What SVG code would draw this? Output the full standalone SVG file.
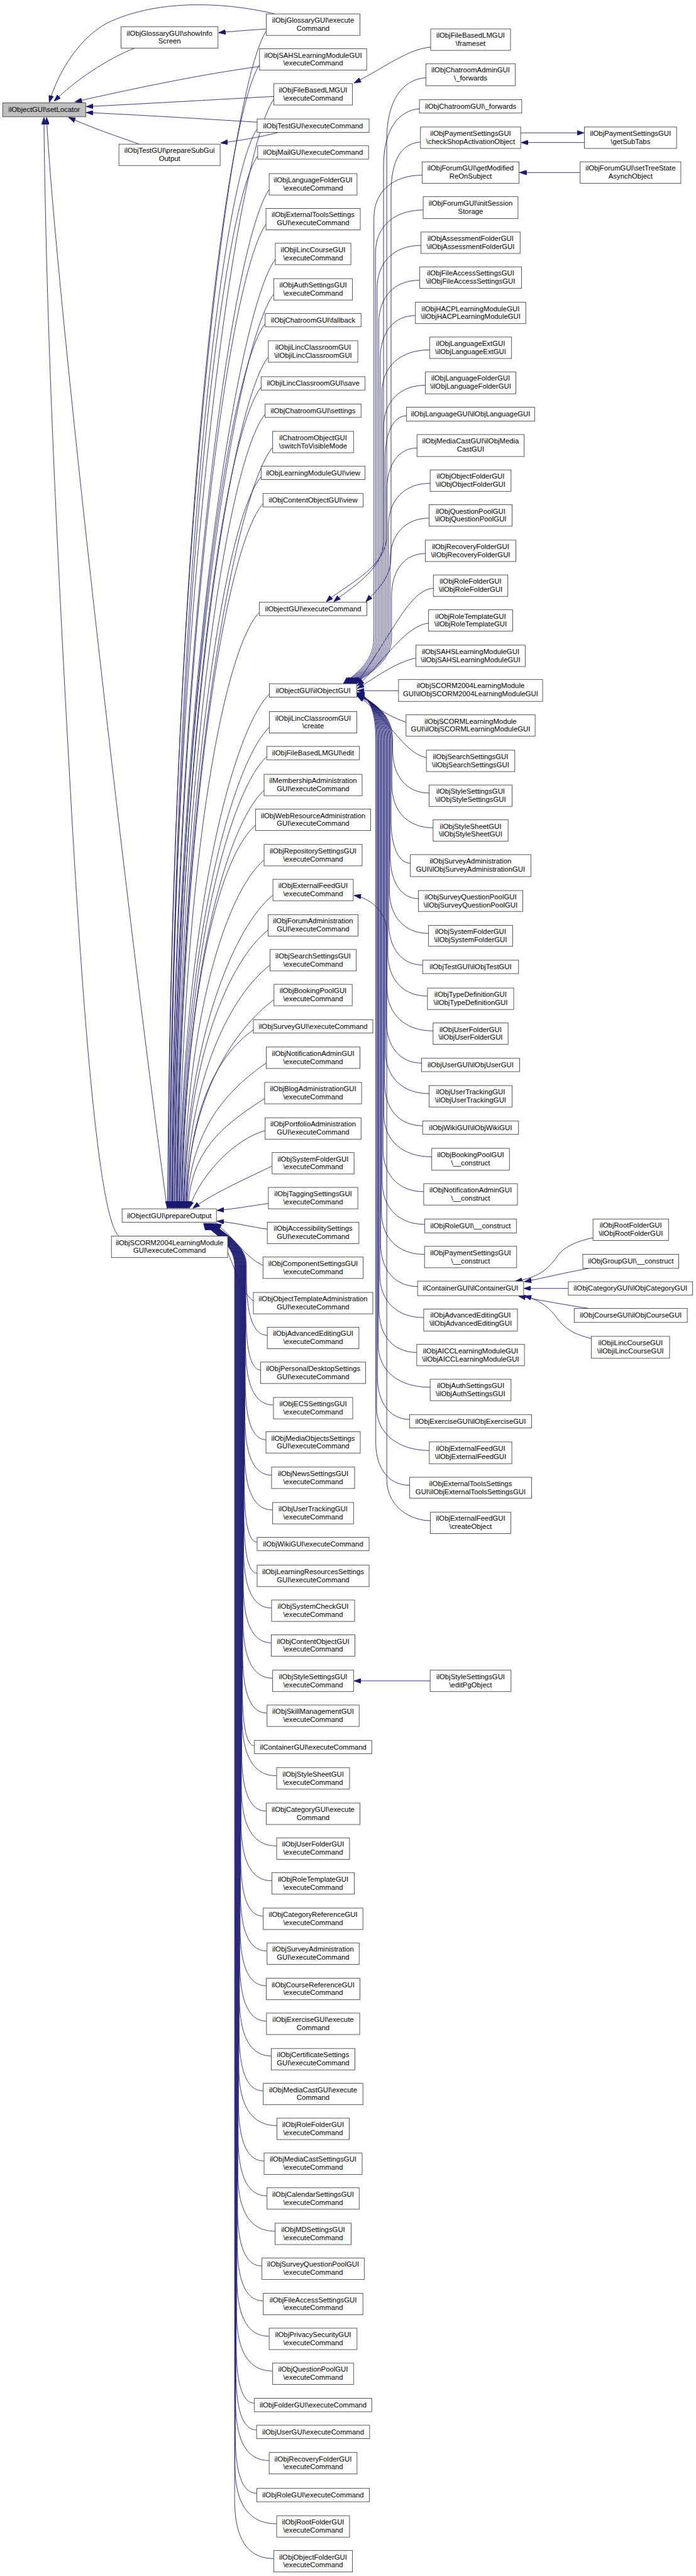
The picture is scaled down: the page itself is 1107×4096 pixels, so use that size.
<svg xmlns="http://www.w3.org/2000/svg" width="1107" height="4096" viewBox="0 0 1107 4096">
<style>
.node rect{fill:#ffffff;stroke:#3a3a3a;stroke-width:1}
.node text{font-family:"Liberation Sans",Arial,Helvetica,sans-serif;font-size:13.33px;text-anchor:middle;fill:#000000}
.edges path{fill:none;stroke:#191970;stroke-width:1;marker-end:url(#ah)}
#n-setLocator rect{fill:#bfbfbf}
</style>
<defs>
<marker id="ah" viewBox="0 0 13 9" refX="13" refY="4.5" markerWidth="13" markerHeight="9" markerUnits="userSpaceOnUse" orient="auto"><path d="M0,0 L13,4.5 L0,9 Z" fill="#191970" stroke="#191970" stroke-width="1"/></marker>
</defs>
<rect x="0" y="0" width="1107" height="4096" fill="#ffffff"/>
<g transform="scale(0.852)">
<g id="edges" class="edges">
<path d="M513,26 C430,6 300,-5 200,43 C150,70 110,130 92,191"/>
<path d="M251,90 C200,110 140,150 101,189"/>
<path d="M485,124 C380,138 250,165 140,190"/>
<path d="M511,180 C400,186 280,193 161,199"/>
<path d="M480,228 C380,222 270,215 161,210"/>
<path d="M260,269 C220,255 170,238 128,219"/>
<path d="M312,2256 C230,1650 100,500 87,219"/>
<path d="M222,2307 C190,2280 160,2000 130,1450 C105,1000 86,600 82,219"/>
<path d="M497,54 C470,56 440,58 408,61"/>
<path d="M520,247 C490,255 450,262 412,267"/>
<path d="M497,58 C427,164 318,1046 313,2255"/>
<path d="M485,120 C415,224 319,1080 314,2255"/>
<path d="M511,185 C441,287 321,1116 316,2255"/>
<path d="M480,241 C410,341 322,1147 317,2255"/>
<path d="M481,291 C411,390 323,1174 318,2255"/>
<path d="M503,353 C433,450 325,1208 320,2255"/>
<path d="M497,418 C427,513 326,1244 321,2255"/>
<path d="M514,484 C444,577 327,1281 322,2255"/>
<path d="M511,549 C441,640 328,1316 323,2255"/>
<path d="M495,604 C425,694 330,1347 325,2255"/>
<path d="M501,666 C431,754 331,1381 326,2255"/>
<path d="M488,722 C418,808 332,1411 327,2255"/>
<path d="M495,773 C425,857 334,1439 329,2255"/>
<path d="M509,835 C439,918 335,1474 330,2255"/>
<path d="M488,889 C418,970 336,1503 331,2255"/>
<path d="M491,940 C421,1019 337,1531 332,2255"/>
<path d="M484,1143 C414,1216 339,1643 334,2255"/>
<path d="M503,1295 C433,1364 340,1727 335,2255"/>
<path d="M503,1357 C433,1424 341,1761 336,2255"/>
<path d="M498,1412 C428,1477 343,1791 338,2255"/>
<path d="M493,1475 C423,1538 344,1826 339,2255"/>
<path d="M477,1540 C407,1601 345,1861 340,2255"/>
<path d="M493,1605 C423,1664 347,1897 342,2255"/>
<path d="M509,1671 C439,1728 348,1933 343,2255"/>
<path d="M500,1736 C430,1792 349,1969 344,2255"/>
<path d="M504,1801 C434,1855 351,2005 346,2255"/>
<path d="M511,1866 C441,1918 352,2041 347,2255"/>
<path d="M473,1922 C403,1972 353,2071 348,2255"/>
<path d="M497,1984 C427,2032 354,2106 349,2255"/>
<path d="M494,2050 C424,2096 356,2142 351,2255"/>
<path d="M495,2110 C440,2125 375,2190 353,2255"/>
<path d="M508,2176 C470,2195 400,2225 360,2255"/>
<path d="M501,2246 C470,2250 440,2256 405,2259"/>
<path d="M499,2294 C470,2290 440,2282 405,2279"/>
<path d="M491,2362 C455,2345 430,2300 401,2283"/>
<path d="M473,2428 C445,2410 430,2330 398,2283"/>
<path d="M499,2492 C475.6,2492 460,2462 460,2382 L460,2360 C460,2320 406,2295 398,2283"/>
<path d="M487,2557 C470.2,2557 459,2527 459,2447 L459,2360 C459,2320 405.5,2295 397.5,2283"/>
<path d="M510,2622 C479,2622 458.4,2592 458.4,2512 L458.4,2360 C458.4,2320 405,2295 397,2283"/>
<path d="M497,2687 C473.5,2687 457.8,2657 457.8,2577 L457.8,2360 C457.8,2320 404.5,2295 396.5,2283"/>
<path d="M507,2753 C477.1,2753 457.2,2723 457.2,2643 L457.2,2360 C457.2,2320 404,2295 396,2283"/>
<path d="M509,2818 C477.6,2818 456.6,2788 456.6,2708 L456.6,2360 C456.6,2320 403.5,2295 395.5,2283"/>
<path d="M480,2878 C465.6,2878 456,2848 456,2768 L456,2360 C456,2320 403,2295 395,2283"/>
<path d="M480,2936 C465.2,2936 455.4,2906 455.4,2826 L455.4,2360 C455.4,2320 402.5,2295 394.5,2283"/>
<path d="M507,3001 C475.7,3001 454.8,2971 454.8,2891 L454.8,2360 C454.8,2320 402,2295 394,2283"/>
<path d="M507,3066 C475.3,3066 454.2,3036 454.2,2956 L454.2,2360 C454.2,2320 401.5,2295 393.5,2283"/>
<path d="M509,3132 C475.8,3132 453.6,3102 453.6,3022 L453.6,2360 C453.6,2320 401,2295 393,2283"/>
<path d="M498,3197 C471,3197 453,3167 453,3087 L453,2360 C453,2320 400.5,2295 392.5,2283"/>
<path d="M475,3258 C461.4,3258 452.4,3228 452.4,3148 L452.4,2360 C452.4,2320 400,2295 392,2283"/>
<path d="M516,3314 C477.5,3314 451.8,3284 451.8,3204 L451.8,2360 C451.8,2320 399.5,2295 391.5,2283"/>
<path d="M497,3380 C469.5,3380 451.2,3350 451.2,3270 L451.2,2360 C451.2,2320 399,2295 391,2283"/>
<path d="M516,3445 C476.8,3445 450.6,3415 450.6,3335 L450.6,2360 C450.6,2320 398.5,2295 390.5,2283"/>
<path d="M507,3510 C472.8,3510 450,3480 450,3400 L450,2360 C450,2320 398,2295 390,2283"/>
<path d="M491,3576 C466,3576 449.4,3546 449.4,3466 L449.4,2360 C449.4,2320 397.5,2295 389.5,2283"/>
<path d="M498,3641 C468.5,3641 448.8,3611 448.8,3531 L448.8,2360 C448.8,2320 397,2295 389,2283"/>
<path d="M497,3706 C467.7,3706 448.2,3676 448.2,3596 L448.2,2360 C448.2,2320 396.5,2295 388.5,2283"/>
<path d="M498,3772 C467.8,3772 447.6,3742 447.6,3662 L447.6,2360 C447.6,2320 396,2295 388,2283"/>
<path d="M507,3837 C471,3837 447,3807 447,3727 L447,2360 C447,2320 395.5,2295 387.5,2283"/>
<path d="M491,3902 C464.2,3902 446.4,3872 446.4,3792 L446.4,2360 C446.4,2320 395,2295 387,2283"/>
<path d="M517,3967 C474.3,3967 445.8,3937 445.8,3857 L445.8,2360 C445.8,2320 394.5,2295 386.5,2283"/>
<path d="M493,4033 C464.3,4033 445.2,4003 445.2,3923 L445.2,2360 C445.2,2320 394,2295 386,2283"/>
<path d="M498,4098 C466,4098 444.6,4068 444.6,3988 L444.6,2360 C444.6,2320 393.5,2295 385.5,2283"/>
<path d="M513,4164 C471.6,4164 444,4134 444,4054 L444,2360 C444,2320 393,2295 385,2283"/>
<path d="M489,4229 C461.6,4229 443.4,4199 443.4,4119 L443.4,2360 C443.4,2320 392.5,2295 384.5,2283"/>
<path d="M491,4294 C462.1,4294 442.8,4264 442.8,4184 L442.8,2360 C442.8,2320 392,2295 384,2283"/>
<path d="M502,4360 C466.1,4360 442.2,4330 442.2,4250 L442.2,2360 C442.2,2320 391.5,2295 383.5,2283"/>
<path d="M509,4425 C468.6,4425 441.6,4395 441.6,4315 L441.6,2360 C441.6,2320 391,2295 383,2283"/>
<path d="M475,4485 C454.6,4485 441,4455 441,4375 L441,2360 C441,2320 390.5,2295 382.5,2283"/>
<path d="M479,4535 C455.8,4535 440.4,4505 440.4,4425 L440.4,2360 C440.4,2320 390,2295 382,2283"/>
<path d="M502,4592 C464.7,4592 439.8,4562 439.8,4482 L439.8,2360 C439.8,2320 389.5,2295 381.5,2283"/>
<path d="M479,4653 C455.1,4653 439.2,4623 439.2,4543 L439.2,2360 C439.2,2320 389,2295 381,2283"/>
<path d="M516,4710 C469.6,4710 438.6,4680 438.6,4600 L438.6,2360 C438.6,2320 388.5,2295 380.5,2283"/>
<path d="M511,4775 C467.2,4775 438,4745 438,4665 L438,2360 C438,2320 388,2295 380,2283"/>
<path d="M804,88 C760,92 720,125 661,155"/>
<path d="M795,145 C750,148 722,190 722,260 L722,1000 C722,1060 640,1095 609,1123"/>
<path d="M783,203 C745,206 716,240 716,310 L716,1010 C716,1065 650,1100 623,1123"/>
<path d="M785,265 C748,268 730,300 730,360 L730,1040 C730,1080 700,1105 683,1123"/>
<path d="M788,327 C734,327 698,357 698,407 L698,1190 C698,1240 656,1262 641,1276"/>
<path d="M790,392 C736.6,392 701,422 701,472 L701,1190 C701,1240 658,1262 643,1276"/>
<path d="M786,458 C736.8,458 704,488 704,538 L704,1190 C704,1240 660,1262 645,1276"/>
<path d="M783,523 C737.4,523 707,553 707,603 L707,1190 C707,1240 662,1262 647,1276"/>
<path d="M775,589 C736,589 710,619 710,669 L710,1190 C710,1240 664,1262 649,1276"/>
<path d="M802,653 C748.6,653 713,683 713,733 L713,1190 C713,1240 666,1262 651,1276"/>
<path d="M794,719 C747.2,719 716,749 716,799 L716,1190 C716,1240 668,1262 653,1276"/>
<path d="M759,776 C735,776 719,806 719,856 L719,1190 C719,1240 670,1262 655,1276"/>
<path d="M779,836 C744.8,836 722,866 722,916 L722,1190 C722,1240 672,1262 657,1276"/>
<path d="M803,902 C756.2,902 725,932 725,982 L725,1190 C725,1240 674,1262 659,1276"/>
<path d="M801,967 C757.2,967 728,997 728,1047 L728,1190 C728,1240 676,1262 661,1276"/>
<path d="M794,1033 C756.2,1033 731,1063 731,1113 L731,1190 C731,1240 678,1262 663,1276"/>
<path d="M809,1098 C765,1100 734,1180 665,1277"/>
<path d="M800,1163 C755,1168 712,1240 667,1280"/>
<path d="M777,1228 C740,1235 700,1265 667,1285"/>
<path d="M744,1289 L667,1289"/>
<path d="M758,1348 C720,1335 690,1312 667,1296"/>
<path d="M796,1414 C750,1405 720,1330 667,1299"/>
<path d="M801,1480 C760.2,1480 733,1450 733,1400 L733,1380 C733,1330 690,1305 667,1299"/>
<path d="M809,1545 C762.5,1545 731.5,1515 731.5,1465 L731.5,1380 C731.5,1330 690,1305 667,1298.7"/>
<path d="M766,1611 C744.4,1611 730,1581 730,1531 L730,1380 C730,1330 690,1304 667,1298.4"/>
<path d="M781,1677 C749.5,1677 728.5,1647 728.5,1597 L728.5,1380 C728.5,1330 690,1304 667,1298"/>
<path d="M800,1742 C756.2,1742 727,1712 727,1662 L727,1380 C727,1330 690,1304 667,1297.8"/>
<path d="M789,1801 C750.9,1801 725.5,1771 725.5,1721 L725.5,1380 C725.5,1330 690,1303 667,1297.5"/>
<path d="M798,1859 C753.6,1859 724,1829 724,1779 L724,1380 C724,1330 690,1303 667,1297.2"/>
<path d="M809,1924 C757.1,1924 722.5,1894 722.5,1844 L722.5,1380 C722.5,1330 690,1303 667,1296.9"/>
<path d="M787,1984 C747.4,1984 721,1954 721,1904 L721,1380 C721,1330 690,1303 667,1296.6"/>
<path d="M801,2041 C752.1,2041 719.5,2011 719.5,1961 L719.5,1380 C719.5,1330 690,1302 667,1296.3"/>
<path d="M789,2101 C746.4,2101 718,2071 718,2021 L718,1380 C718,1330 690,1302 667,1296"/>
<path d="M806,2159 C752.3,2159 716.5,2129 716.5,2079 L716.5,1380 C716.5,1330 690,1302 667,1295.7"/>
<path d="M791,2224 C745.4,2224 715,2194 715,2144 L715,1380 C715,1330 690,1301 667,1295.4"/>
<path d="M793,2285 C745.3,2285 713.5,2255 713.5,2205 L713.5,1380 C713.5,1330 690,1301 667,1295.1"/>
<path d="M792,2341 C744,2341 712,2311 712,2261 L712,1380 C712,1330 690,1301 667,1294.8"/>
<path d="M780,2401 C738.3,2401 710.5,2371 710.5,2321 L710.5,1380 C710.5,1330 690,1300 667,1294.5"/>
<path d="M791,2459 C741.8,2459 709,2429 709,2379 L709,1380 C709,1330 690,1300 667,1294.2"/>
<path d="M778,2524 C735.7,2524 707.5,2494 707.5,2444 L707.5,1380 C707.5,1330 690,1300 667,1293.9"/>
<path d="M803,2589 C744.8,2589 706,2559 706,2509 L706,1380 C706,1330 690,1300 667,1293.6"/>
<path d="M765,2649 C728.7,2649 704.5,2619 704.5,2569 L704.5,1380 C704.5,1330 690,1299 667,1293.3"/>
<path d="M801,2707 C745.8,2707 703,2677 703,2627 L703,1380 C703,1330 690,1299 667,1293"/>
<path d="M765,2772 C726.9,2772 701.5,2742 701.5,2692 L701.5,1380 C701.5,1330 690,1299 667,1292.7"/>
<path d="M803,2838 C770,2838 722,2815 722,2760 L722,1740 C722,1700 690,1676 661,1671"/>
<path d="M803,3137 L661,3137"/>
<path d="M972,248 L1090,248"/>
<path d="M1091,266 L973,266"/>
<path d="M1083,322 L970,322"/>
<path d="M1107,2310 C1070,2318 1050,2330 1040,2345 C1020,2375 995,2386 962,2391"/>
<path d="M1100,2367 C1060,2374 1015,2385 979,2392"/>
<path d="M1061,2404.5 L978,2404.5"/>
<path d="M1100,2442 C1060,2436 1010,2427 968,2419"/>
<path d="M1104,2498 C1070,2490 1053,2478 1040,2460 C1025,2440 1010,2428 979,2418"/>
</g>
<g id="nodes">
<g id="n-setLocator" class="node"><rect x="5" y="192" width="155" height="26"/><text x="82.5" y="209.5">ilObjectGUI\setLocator</text></g>
<g id="n-showInfo" class="node"><rect x="226" y="50" width="181" height="40"/><text x="316.5" y="66.5">ilObjGlossaryGUI\showInfo</text><text x="316.5" y="81.5">Screen</text></g>
<g id="n-prepareSubGui" class="node"><rect x="222" y="269" width="189" height="40"/><text x="316.5" y="285.5">ilObjTestGUI\prepareSubGui</text><text x="316.5" y="300.5">Output</text></g>
<g id="n-prepareOutput" class="node"><rect x="228" y="2256" width="176" height="25"/><text x="316" y="2273">ilObjectGUI\prepareOutput</text></g>
<g id="n-scorm2004exec" class="node"><rect x="208" y="2307" width="217" height="40"/><text x="316.5" y="2323.5">ilObjSCORM2004LearningModule</text><text x="316.5" y="2338.5">GUI\executeCommand</text></g>
<g id="n-c1" class="node"><rect x="497" y="26" width="175" height="40"/><text x="584.5" y="42.5">ilObjGlossaryGUI\execute</text><text x="584.5" y="57.5">Command</text></g>
<g id="n-c2" class="node"><rect x="484.5" y="91" width="200" height="40"/><text x="584.5" y="107.5">ilObjSAHSLearningModuleGUI</text><text x="584.5" y="122.5">\executeCommand</text></g>
<g id="n-c3" class="node"><rect x="511" y="156" width="147" height="40"/><text x="584.5" y="172.5">ilObjFileBasedLMGUI</text><text x="584.5" y="187.5">\executeCommand</text></g>
<g id="n-c4" class="node"><rect x="480" y="222" width="209" height="25"/><text x="584.5" y="239">ilObjTestGUI\executeCommand</text></g>
<g id="n-c5" class="node"><rect x="481" y="272" width="207" height="25"/><text x="584.5" y="289">ilObjMailGUI\executeCommand</text></g>
<g id="n-c6" class="node"><rect x="502.5" y="324" width="164" height="40"/><text x="584.5" y="340.5">ilObjLanguageFolderGUI</text><text x="584.5" y="355.5">\executeCommand</text></g>
<g id="n-c7" class="node"><rect x="496.5" y="389" width="176" height="40"/><text x="584.5" y="405.5">ilObjExternalToolsSettings</text><text x="584.5" y="420.5">GUI\executeCommand</text></g>
<g id="n-c8" class="node"><rect x="514" y="454" width="141" height="40"/><text x="584.5" y="470.5">ilObjiLincCourseGUI</text><text x="584.5" y="485.5">\executeCommand</text></g>
<g id="n-c9" class="node"><rect x="511" y="520" width="147" height="40"/><text x="584.5" y="536.5">ilObjAuthSettingsGUI</text><text x="584.5" y="551.5">\executeCommand</text></g>
<g id="n-c10" class="node"><rect x="495" y="585" width="179" height="25"/><text x="584.5" y="602">ilObjChatroomGUI\fallback</text></g>
<g id="n-c11" class="node"><rect x="501" y="636" width="167" height="40"/><text x="584.5" y="652.5">ilObjiLincClassroomGUI</text><text x="584.5" y="667.5">\ilObjiLincClassroomGUI</text></g>
<g id="n-c12" class="node"><rect x="487.5" y="703" width="194" height="25"/><text x="584.5" y="720">ilObjiLincClassroomGUI\save</text></g>
<g id="n-c13" class="node"><rect x="495" y="754" width="179" height="25"/><text x="584.5" y="771">ilObjChatroomGUI\settings</text></g>
<g id="n-c14" class="node"><rect x="509" y="805" width="151" height="40"/><text x="584.5" y="821.5">ilChatroomObjectGUI</text><text x="584.5" y="836.5">\switchToVisibleMode</text></g>
<g id="n-c15" class="node"><rect x="487.5" y="870" width="194" height="25"/><text x="584.5" y="887">ilObjLearningModuleGUI\view</text></g>
<g id="n-c16" class="node"><rect x="491" y="921" width="187" height="25"/><text x="584.5" y="938">ilObjContentObjectGUI\view</text></g>
<g id="n-c17" class="node"><rect x="484" y="1124" width="201" height="25"/><text x="584.5" y="1141">ilObjectGUI\executeCommand</text></g>
<g id="n-c18" class="node"><rect x="503" y="1276" width="163" height="25"/><text x="584.5" y="1293">ilObjectGUI\ilObjectGUI</text></g>
<g id="n-c19" class="node"><rect x="503" y="1328" width="163" height="40"/><text x="584.5" y="1344.5">ilObjiLincClassroomGUI</text><text x="584.5" y="1359.5">\create</text></g>
<g id="n-c20" class="node"><rect x="498" y="1393" width="173" height="25"/><text x="584.5" y="1410">ilObjFileBasedLMGUI\edit</text></g>
<g id="n-c21" class="node"><rect x="493" y="1445" width="183" height="40"/><text x="584.5" y="1461.5">ilMembershipAdministration</text><text x="584.5" y="1476.5">GUI\executeCommand</text></g>
<g id="n-c22" class="node"><rect x="477" y="1510" width="215" height="40"/><text x="584.5" y="1526.5">ilObjWebResourceAdministration</text><text x="584.5" y="1541.5">GUI\executeCommand</text></g>
<g id="n-c23" class="node"><rect x="493" y="1576" width="183" height="40"/><text x="584.5" y="1592.5">ilObjRepositorySettingsGUI</text><text x="584.5" y="1607.5">\executeCommand</text></g>
<g id="n-c24" class="node"><rect x="509.5" y="1641" width="150" height="40"/><text x="584.5" y="1657.5">ilObjExternalFeedGUI</text><text x="584.5" y="1672.5">\executeCommand</text></g>
<g id="n-c25" class="node"><rect x="500.5" y="1707" width="168" height="40"/><text x="584.5" y="1723.5">ilObjForumAdministration</text><text x="584.5" y="1738.5">GUI\executeCommand</text></g>
<g id="n-c26" class="node"><rect x="504" y="1772" width="161" height="40"/><text x="584.5" y="1788.5">ilObjSearchSettingsGUI</text><text x="584.5" y="1803.5">\executeCommand</text></g>
<g id="n-c27" class="node"><rect x="511.5" y="1837" width="146" height="40"/><text x="584.5" y="1853.5">ilObjBookingPoolGUI</text><text x="584.5" y="1868.5">\executeCommand</text></g>
<g id="n-c28" class="node"><rect x="473" y="1903" width="223" height="25"/><text x="584.5" y="1920">ilObjSurveyGUI\executeCommand</text></g>
<g id="n-c29" class="node"><rect x="497" y="1954" width="175" height="40"/><text x="584.5" y="1970.5">ilObjNotificationAdminGUI</text><text x="584.5" y="1985.5">\executeCommand</text></g>
<g id="n-c30" class="node"><rect x="494" y="2020" width="181" height="40"/><text x="584.5" y="2036.5">ilObjBlogAdministrationGUI</text><text x="584.5" y="2051.5">\executeCommand</text></g>
<g id="n-c31" class="node"><rect x="495" y="2086" width="179" height="40"/><text x="584.5" y="2102.5">ilObjPortfolioAdministration</text><text x="584.5" y="2117.5">GUI\executeCommand</text></g>
<g id="n-c32" class="node"><rect x="508" y="2151" width="153" height="40"/><text x="584.5" y="2167.5">ilObjSystemFolderGUI</text><text x="584.5" y="2182.5">\executeCommand</text></g>
<g id="n-c33" class="node"><rect x="501" y="2216" width="167" height="40"/><text x="584.5" y="2232.5">ilObjTaggingSettingsGUI</text><text x="584.5" y="2247.5">\executeCommand</text></g>
<g id="n-c34" class="node"><rect x="499" y="2281" width="171" height="40"/><text x="584.5" y="2297.5">ilObjAccessibilitySettings</text><text x="584.5" y="2312.5">GUI\executeCommand</text></g>
<g id="n-c35" class="node"><rect x="491" y="2346" width="187" height="40"/><text x="584.5" y="2362.5">ilObjComponentSettingsGUI</text><text x="584.5" y="2377.5">\executeCommand</text></g>
<g id="n-c36" class="node"><rect x="473" y="2412" width="223" height="40"/><text x="584.5" y="2428.5">ilObjObjectTemplateAdministration</text><text x="584.5" y="2443.5">GUI\executeCommand</text></g>
<g id="n-c37" class="node"><rect x="499" y="2477" width="171" height="40"/><text x="584.5" y="2493.5">ilObjAdvancedEditingGUI</text><text x="584.5" y="2508.5">\executeCommand</text></g>
<g id="n-c38" class="node"><rect x="486.5" y="2542" width="196" height="40"/><text x="584.5" y="2558.5">ilObjPersonalDesktopSettings</text><text x="584.5" y="2573.5">GUI\executeCommand</text></g>
<g id="n-c39" class="node"><rect x="510.5" y="2608" width="148" height="40"/><text x="584.5" y="2624.5">ilObjECSSettingsGUI</text><text x="584.5" y="2639.5">\executeCommand</text></g>
<g id="n-c40" class="node"><rect x="496.5" y="2672" width="176" height="40"/><text x="584.5" y="2688.5">ilObjMediaObjectsSettings</text><text x="584.5" y="2703.5">GUI\executeCommand</text></g>
<g id="n-c41" class="node"><rect x="507" y="2738" width="155" height="40"/><text x="584.5" y="2754.5">ilObjNewsSettingsGUI</text><text x="584.5" y="2769.5">\executeCommand</text></g>
<g id="n-c42" class="node"><rect x="509" y="2804" width="151" height="40"/><text x="584.5" y="2820.5">ilObjUserTrackingGUI</text><text x="584.5" y="2835.5">\executeCommand</text></g>
<g id="n-c43" class="node"><rect x="480" y="2869" width="209" height="25"/><text x="584.5" y="2886">ilObjWikiGUI\executeCommand</text></g>
<g id="n-c44" class="node"><rect x="480" y="2921" width="209" height="40"/><text x="584.5" y="2937.5">ilObjLearningResourcesSettings</text><text x="584.5" y="2952.5">GUI\executeCommand</text></g>
<g id="n-c45" class="node"><rect x="507" y="2986" width="155" height="40"/><text x="584.5" y="3002.5">ilObjSystemCheckGUI</text><text x="584.5" y="3017.5">\executeCommand</text></g>
<g id="n-c46" class="node"><rect x="506.5" y="3051" width="156" height="40"/><text x="584.5" y="3067.5">ilObjContentObjectGUI</text><text x="584.5" y="3082.5">\executeCommand</text></g>
<g id="n-c47" class="node"><rect x="509" y="3117" width="151" height="40"/><text x="584.5" y="3133.5">ilObjStyleSettingsGUI</text><text x="584.5" y="3148.5">\executeCommand</text></g>
<g id="n-c48" class="node"><rect x="498.5" y="3182" width="172" height="40"/><text x="584.5" y="3198.5">ilObjSkillManagementGUI</text><text x="584.5" y="3213.5">\executeCommand</text></g>
<g id="n-c49" class="node"><rect x="475" y="3248" width="219" height="25"/><text x="584.5" y="3265">ilContainerGUI\executeCommand</text></g>
<g id="n-c50" class="node"><rect x="516.5" y="3299" width="136" height="40"/><text x="584.5" y="3315.5">ilObjStyleSheetGUI</text><text x="584.5" y="3330.5">\executeCommand</text></g>
<g id="n-c51" class="node"><rect x="497" y="3365" width="175" height="40"/><text x="584.5" y="3381.5">ilObjCategoryGUI\execute</text><text x="584.5" y="3396.5">Command</text></g>
<g id="n-c52" class="node"><rect x="516.5" y="3430" width="136" height="40"/><text x="584.5" y="3446.5">ilObjUserFolderGUI</text><text x="584.5" y="3461.5">\executeCommand</text></g>
<g id="n-c53" class="node"><rect x="507.5" y="3495" width="154" height="40"/><text x="584.5" y="3511.5">ilObjRoleTemplateGUI</text><text x="584.5" y="3526.5">\executeCommand</text></g>
<g id="n-c54" class="node"><rect x="491.5" y="3561" width="186" height="40"/><text x="584.5" y="3577.5">ilObjCategoryReferenceGUI</text><text x="584.5" y="3592.5">\executeCommand</text></g>
<g id="n-c55" class="node"><rect x="498.5" y="3626" width="172" height="40"/><text x="584.5" y="3642.5">ilObjSurveyAdministration</text><text x="584.5" y="3657.5">GUI\executeCommand</text></g>
<g id="n-c56" class="node"><rect x="497" y="3692" width="175" height="40"/><text x="584.5" y="3708.5">ilObjCourseReferenceGUI</text><text x="584.5" y="3723.5">\executeCommand</text></g>
<g id="n-c57" class="node"><rect x="497.5" y="3757" width="174" height="40"/><text x="584.5" y="3773.5">ilObjExerciseGUI\execute</text><text x="584.5" y="3788.5">Command</text></g>
<g id="n-c58" class="node"><rect x="506.5" y="3823" width="156" height="40"/><text x="584.5" y="3839.5">ilObjCertificateSettings</text><text x="584.5" y="3854.5">GUI\executeCommand</text></g>
<g id="n-c59" class="node"><rect x="491.5" y="3888" width="186" height="40"/><text x="584.5" y="3904.5">ilObjMediaCastGUI\execute</text><text x="584.5" y="3919.5">Command</text></g>
<g id="n-c60" class="node"><rect x="517" y="3953" width="135" height="40"/><text x="584.5" y="3969.5">ilObjRoleFolderGUI</text><text x="584.5" y="3984.5">\executeCommand</text></g>
<g id="n-c61" class="node"><rect x="493" y="4018" width="183" height="40"/><text x="584.5" y="4034.5">ilObjMediaCastSettingsGUI</text><text x="584.5" y="4049.5">\executeCommand</text></g>
<g id="n-c62" class="node"><rect x="498.5" y="4083" width="172" height="40"/><text x="584.5" y="4099.5">ilObjCalendarSettingsGUI</text><text x="584.5" y="4114.5">\executeCommand</text></g>
<g id="n-c63" class="node"><rect x="513.5" y="4149" width="142" height="40"/><text x="584.5" y="4165.5">ilObjMDSettingsGUI</text><text x="584.5" y="4180.5">\executeCommand</text></g>
<g id="n-c64" class="node"><rect x="489" y="4214" width="191" height="40"/><text x="584.5" y="4230.5">ilObjSurveyQuestionPoolGUI</text><text x="584.5" y="4245.5">\executeCommand</text></g>
<g id="n-c65" class="node"><rect x="491.5" y="4280" width="186" height="40"/><text x="584.5" y="4296.5">ilObjFileAccessSettingsGUI</text><text x="584.5" y="4311.5">\executeCommand</text></g>
<g id="n-c66" class="node"><rect x="502.5" y="4345" width="164" height="40"/><text x="584.5" y="4361.5">ilObjPrivacySecurityGUI</text><text x="584.5" y="4376.5">\executeCommand</text></g>
<g id="n-c67" class="node"><rect x="509" y="4410" width="151" height="40"/><text x="584.5" y="4426.5">ilObjQuestionPoolGUI</text><text x="584.5" y="4441.5">\executeCommand</text></g>
<g id="n-c68" class="node"><rect x="475" y="4476" width="219" height="25"/><text x="584.5" y="4493">ilObjFolderGUI\executeCommand</text></g>
<g id="n-c69" class="node"><rect x="479" y="4526" width="211" height="25"/><text x="584.5" y="4543">ilObjUserGUI\executeCommand</text></g>
<g id="n-c70" class="node"><rect x="502.5" y="4577" width="164" height="40"/><text x="584.5" y="4593.5">ilObjRecoveryFolderGUI</text><text x="584.5" y="4608.5">\executeCommand</text></g>
<g id="n-c71" class="node"><rect x="479.5" y="4644" width="210" height="25"/><text x="584.5" y="4661">ilObjRoleGUI\executeCommand</text></g>
<g id="n-c72" class="node"><rect x="516.5" y="4695" width="136" height="40"/><text x="584.5" y="4711.5">ilObjRootFolderGUI</text><text x="584.5" y="4726.5">\executeCommand</text></g>
<g id="n-c73" class="node"><rect x="511" y="4760" width="147" height="40"/><text x="584.5" y="4776.5">ilObjObjectFolderGUI</text><text x="584.5" y="4791.5">\executeCommand</text></g>
<g id="n-d1" class="node"><rect x="804" y="54" width="149" height="40"/><text x="878.5" y="70.5">ilObjFileBasedLMGUI</text><text x="878.5" y="85.5">\frameset</text></g>
<g id="n-d2" class="node"><rect x="795" y="119" width="167" height="41"/><text x="878.5" y="135.5">ilObjChatroomAdminGUI</text><text x="878.5" y="150.5">\_forwards</text></g>
<g id="n-d3" class="node"><rect x="783" y="186" width="191" height="25"/><text x="878.5" y="203">ilObjChatroomGUI\_forwards</text></g>
<g id="n-d4" class="node"><rect x="785" y="237" width="187" height="40"/><text x="878.5" y="253.5">ilObjPaymentSettingsGUI</text><text x="878.5" y="268.5">\checkShopActivationObject</text></g>
<g id="n-d5" class="node"><rect x="788" y="302" width="181" height="40"/><text x="878.5" y="318.5">ilObjForumGUI\getModified</text><text x="878.5" y="333.5">ReOnSubject</text></g>
<g id="n-d6" class="node"><rect x="790" y="367" width="177" height="41"/><text x="878.5" y="383.5">ilObjForumGUI\initSession</text><text x="878.5" y="398.5">Storage</text></g>
<g id="n-d7" class="node"><rect x="786" y="433" width="185" height="40"/><text x="878.5" y="449.5">ilObjAssessmentFolderGUI</text><text x="878.5" y="464.5">\ilObjAssessmentFolderGUI</text></g>
<g id="n-d8" class="node"><rect x="783.5" y="498" width="190" height="40"/><text x="878.5" y="514.5">ilObjFileAccessSettingsGUI</text><text x="878.5" y="529.5">\ilObjFileAccessSettingsGUI</text></g>
<g id="n-d9" class="node"><rect x="775.5" y="564" width="206" height="40"/><text x="878.5" y="580.5">ilObjHACPLearningModuleGUI</text><text x="878.5" y="595.5">\ilObjHACPLearningModuleGUI</text></g>
<g id="n-d10" class="node"><rect x="802" y="629" width="153" height="40"/><text x="878.5" y="645.5">ilObjLanguageExtGUI</text><text x="878.5" y="660.5">\ilObjLanguageExtGUI</text></g>
<g id="n-d11" class="node"><rect x="794" y="694" width="169" height="41"/><text x="878.5" y="710.5">ilObjLanguageFolderGUI</text><text x="878.5" y="725.5">\ilObjLanguageFolderGUI</text></g>
<g id="n-d12" class="node"><rect x="759" y="760" width="239" height="26"/><text x="878.5" y="777.5">ilObjLanguageGUI\ilObjLanguageGUI</text></g>
<g id="n-d13" class="node"><rect x="778.5" y="811" width="200" height="41"/><text x="878.5" y="827.5">ilObjMediaCastGUI\ilObjMedia</text><text x="878.5" y="842.5">CastGUI</text></g>
<g id="n-d14" class="node"><rect x="803" y="877" width="151" height="40"/><text x="878.5" y="893.5">ilObjObjectFolderGUI</text><text x="878.5" y="908.5">\ilObjObjectFolderGUI</text></g>
<g id="n-d15" class="node"><rect x="801" y="942" width="155" height="40"/><text x="878.5" y="958.5">ilObjQuestionPoolGUI</text><text x="878.5" y="973.5">\ilObjQuestionPoolGUI</text></g>
<g id="n-d16" class="node"><rect x="794" y="1008" width="169" height="40"/><text x="878.5" y="1024.5">ilObjRecoveryFolderGUI</text><text x="878.5" y="1039.5">\ilObjRecoveryFolderGUI</text></g>
<g id="n-d17" class="node"><rect x="809" y="1073" width="139" height="40"/><text x="878.5" y="1089.5">ilObjRoleFolderGUI</text><text x="878.5" y="1104.5">\ilObjRoleFolderGUI</text></g>
<g id="n-d18" class="node"><rect x="800" y="1138" width="157" height="40"/><text x="878.5" y="1154.5">ilObjRoleTemplateGUI</text><text x="878.5" y="1169.5">\ilObjRoleTemplateGUI</text></g>
<g id="n-d19" class="node"><rect x="776.5" y="1204" width="204" height="40"/><text x="878.5" y="1220.5">ilObjSAHSLearningModuleGUI</text><text x="878.5" y="1235.5">\ilObjSAHSLearningModuleGUI</text></g>
<g id="n-d20" class="node"><rect x="744" y="1268" width="269" height="41"/><text x="878.5" y="1284.5">ilObjSCORM2004LearningModule</text><text x="878.5" y="1299.5">GUI\ilObjSCORM2004LearningModuleGUI</text></g>
<g id="n-d21" class="node"><rect x="758" y="1334" width="241" height="40"/><text x="878.5" y="1350.5">ilObjSCORMLearningModule</text><text x="878.5" y="1365.5">GUI\ilObjSCORMLearningModuleGUI</text></g>
<g id="n-d22" class="node"><rect x="796" y="1400" width="165" height="40"/><text x="878.5" y="1416.5">ilObjSearchSettingsGUI</text><text x="878.5" y="1431.5">\ilObjSearchSettingsGUI</text></g>
<g id="n-d23" class="node"><rect x="801" y="1465" width="155" height="40"/><text x="878.5" y="1481.5">ilObjStyleSettingsGUI</text><text x="878.5" y="1496.5">\ilObjStyleSettingsGUI</text></g>
<g id="n-d24" class="node"><rect x="808.5" y="1530" width="140" height="40"/><text x="878.5" y="1546.5">ilObjStyleSheetGUI</text><text x="878.5" y="1561.5">\ilObjStyleSheetGUI</text></g>
<g id="n-d25" class="node"><rect x="766" y="1595" width="225" height="41"/><text x="878.5" y="1611.5">ilObjSurveyAdministration</text><text x="878.5" y="1626.5">GUI\ilObjSurveyAdministrationGUI</text></g>
<g id="n-d26" class="node"><rect x="781" y="1662" width="195" height="39"/><text x="878.5" y="1678.5">ilObjSurveyQuestionPoolGUI</text><text x="878.5" y="1693.5">\ilObjSurveyQuestionPoolGUI</text></g>
<g id="n-d27" class="node"><rect x="800" y="1727" width="157" height="39"/><text x="878.5" y="1743.5">ilObjSystemFolderGUI</text><text x="878.5" y="1758.5">\ilObjSystemFolderGUI</text></g>
<g id="n-d28" class="node"><rect x="789" y="1792" width="179" height="25"/><text x="878.5" y="1809">ilObjTestGUI\ilObjTestGUI</text></g>
<g id="n-d29" class="node"><rect x="798" y="1844" width="161" height="40"/><text x="878.5" y="1860.5">ilObjTypeDefinitionGUI</text><text x="878.5" y="1875.5">\ilObjTypeDefinitionGUI</text></g>
<g id="n-d30" class="node"><rect x="808.5" y="1909" width="140" height="40"/><text x="878.5" y="1925.5">ilObjUserFolderGUI</text><text x="878.5" y="1940.5">\ilObjUserFolderGUI</text></g>
<g id="n-d31" class="node"><rect x="787" y="1975" width="183" height="25"/><text x="878.5" y="1992">ilObjUserGUI\ilObjUserGUI</text></g>
<g id="n-d32" class="node"><rect x="801" y="2026" width="155" height="40"/><text x="878.5" y="2042.5">ilObjUserTrackingGUI</text><text x="878.5" y="2057.5">\ilObjUserTrackingGUI</text></g>
<g id="n-d33" class="node"><rect x="789" y="2092" width="179" height="25"/><text x="878.5" y="2109">ilObjWikiGUI\ilObjWikiGUI</text></g>
<g id="n-d34" class="node"><rect x="806" y="2143" width="145" height="41"/><text x="878.5" y="2159.5">ilObjBookingPoolGUI</text><text x="878.5" y="2174.5">\__construct</text></g>
<g id="n-d35" class="node"><rect x="791" y="2209" width="175" height="40"/><text x="878.5" y="2225.5">ilObjNotificationAdminGUI</text><text x="878.5" y="2240.5">\__construct</text></g>
<g id="n-d36" class="node"><rect x="793" y="2275" width="171" height="26"/><text x="878.5" y="2292">ilObjRoleGUI\__construct</text></g>
<g id="n-d37" class="node"><rect x="792.5" y="2326" width="172" height="40"/><text x="878.5" y="2342.5">ilObjPaymentSettingsGUI</text><text x="878.5" y="2357.5">\__construct</text></g>
<g id="n-d38" class="node"><rect x="779.5" y="2391" width="198" height="27"/><text x="878.5" y="2409">ilContainerGUI\ilContainerGUI</text></g>
<g id="n-d39" class="node"><rect x="791" y="2443" width="175" height="41"/><text x="878.5" y="2459.5">ilObjAdvancedEditingGUI</text><text x="878.5" y="2474.5">\ilObjAdvancedEditingGUI</text></g>
<g id="n-d40" class="node"><rect x="778" y="2509" width="201" height="40"/><text x="878.5" y="2525.5">ilObjAICCLearningModuleGUI</text><text x="878.5" y="2540.5">\ilObjAICCLearningModuleGUI</text></g>
<g id="n-d41" class="node"><rect x="803" y="2574" width="151" height="40"/><text x="878.5" y="2590.5">ilObjAuthSettingsGUI</text><text x="878.5" y="2605.5">\ilObjAuthSettingsGUI</text></g>
<g id="n-d42" class="node"><rect x="764.5" y="2640" width="228" height="25"/><text x="878.5" y="2657">ilObjExerciseGUI\ilObjExerciseGUI</text></g>
<g id="n-d43" class="node"><rect x="801.5" y="2691" width="154" height="41"/><text x="878.5" y="2707.5">ilObjExternalFeedGUI</text><text x="878.5" y="2722.5">\ilObjExternalFeedGUI</text></g>
<g id="n-d44" class="node"><rect x="764.5" y="2757" width="228" height="39"/><text x="878.5" y="2773.5">ilObjExternalToolsSettings</text><text x="878.5" y="2788.5">GUI\ilObjExternalToolsSettingsGUI</text></g>
<g id="n-d45" class="node"><rect x="803.5" y="2822" width="150" height="40"/><text x="878.5" y="2838.5">ilObjExternalFeedGUI</text><text x="878.5" y="2853.5">\createObject</text></g>
<g id="n-d46" class="node"><rect x="803" y="3117" width="151" height="40"/><text x="878.5" y="3133.5">ilObjStyleSettingsGUI</text><text x="878.5" y="3148.5">\editPgObject</text></g>
<g id="n-e1" class="node"><rect x="1091" y="237" width="172" height="40"/><text x="1177" y="253.5">ilObjPaymentSettingsGUI</text><text x="1177" y="268.5">\getSubTabs</text></g>
<g id="n-e2" class="node"><rect x="1083" y="302" width="188" height="40"/><text x="1177" y="318.5">ilObjForumGUI\setTreeState</text><text x="1177" y="333.5">AsynchObject</text></g>
<g id="n-e3" class="node"><rect x="1107" y="2275" width="141" height="40"/><text x="1177.5" y="2291.5">ilObjRootFolderGUI</text><text x="1177.5" y="2306.5">\ilObjRootFolderGUI</text></g>
<g id="n-e4" class="node"><rect x="1088" y="2341" width="179" height="26"/><text x="1177.5" y="2358">ilObjGroupGUI\__construct</text></g>
<g id="n-e5" class="node"><rect x="1061" y="2392" width="232" height="25"/><text x="1177" y="2409">ilObjCategoryGUI\ilObjCategoryGUI</text></g>
<g id="n-e6" class="node"><rect x="1072" y="2442" width="211" height="26"/><text x="1177.5" y="2459">ilObjCourseGUI\ilObjCourseGUI</text></g>
<g id="n-e7" class="node"><rect x="1104" y="2494" width="146" height="41"/><text x="1177" y="2510.5">ilObjiLincCourseGUI</text><text x="1177" y="2525.5">\ilObjiLincCourseGUI</text></g>
</g>
</g>
</svg>
